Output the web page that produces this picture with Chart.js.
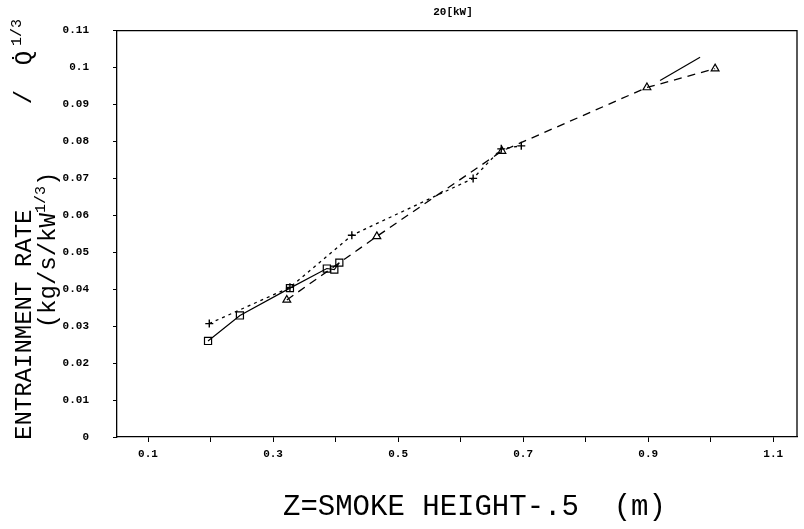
<!DOCTYPE html>
<html><head><meta charset="utf-8">
<script src="https://cdn.jsdelivr.net/npm/chart.js@4/dist/chart.umd.min.js"></script>
<style>html,body{margin:0;padding:0;background:#fff;}canvas{display:block;}</style>
</head><body>
<canvas id="c" width="804" height="529"></canvas>
<script>
// ---- data ----
const squareX = [0.196, 0.247, 0.327, 0.386, 0.398, 0.406];
const squareY = [0.0260, 0.0329, 0.0403, 0.0456, 0.0453, 0.0472];
const solidTailX = [0.919, 0.983];
const solidTailY = [0.0965, 0.1028];
const plusX = [0.198, 0.327, 0.426, 0.620, 0.665, 0.697];
const plusY = [0.0307, 0.0405, 0.0546, 0.0700, 0.0780, 0.0788];
const triX = [0.322, 0.466, 0.666, 0.898, 1.007];
const triY = [0.0371, 0.0543, 0.0774, 0.0946, 0.0997];
const xTicks = [0.1, 0.2, 0.3, 0.4, 0.5, 0.6, 0.7, 0.8, 0.9, 1.0, 1.1];
const xTickLabels = ['0.1', '', '0.3', '', '0.5', '', '0.7', '', '0.9', '', '1.1'];
const yTicks = [0, 0.01, 0.02, 0.03, 0.04, 0.05, 0.06, 0.07, 0.08, 0.09, 0.1, 0.11];
const yTickLabels = ['0', '0.01', '0.02', '0.03', '0.04', '0.05', '0.06', '0.07', '0.08', '0.09', '0.1', '0.11'];
const chartTitle = '20[kW]';
const xTitle = 'Z=SMOKE HEIGHT-.5  (m)';

const pts = (xs, ys) => xs.map((x, i) => ({x: x, y: ys[i]}));
const MONO = "'Liberation Mono', 'DejaVu Sans Mono', monospace";

const textPlugin = {
  id: 'texts',
  afterDraw(chart) {
    const ctx = chart.ctx;
    const a = chart.chartArea;
    ctx.save();
    ctx.strokeStyle = '#000';
    ctx.lineWidth = 1.3;
    ctx.beginPath();
    ctx.moveTo(a.left, a.top); ctx.lineTo(a.right, a.top); ctx.lineTo(a.right, a.bottom);
    ctx.stroke();
    ctx.fillStyle = '#000';
    ctx.font = "bold 11px " + MONO;
    ctx.textAlign = 'center'; ctx.textBaseline = 'middle';
    ctx.fillText(chartTitle, 453, 12);
    ctx.font = "29px " + MONO;
    ctx.textAlign = 'left'; ctx.textBaseline = 'middle';
    ctx.fillText(xTitle, 283, 507);
    ctx.save();
    ctx.rotate(-Math.PI / 2);
    ctx.textBaseline = 'middle';
    ctx.textAlign = 'left';
    ctx.font = "24px " + MONO;
    ctx.fillText('ENTRAINMENT RATE', -440, 25);
    ctx.textAlign = 'center';
    ctx.fillText('/', -97, 25);
    ctx.fillText('Q\u0307', -58, 25);
    ctx.font = "15px " + MONO;
    ctx.textAlign = 'left';
    ctx.fillText('1/3', -46, 17);
    ctx.font = "24px " + MONO;
    const p1 = '(kg/s/kW', p3 = ')';
    const w1 = ctx.measureText(p1).width, w3 = ctx.measureText(p3).width;
    ctx.font = "15px " + MONO;
    const w2 = ctx.measureText('1/3').width;
    const total = w1 + w2 + w3;
    let sx = -250 - total / 2;
    ctx.font = "24px " + MONO;
    ctx.fillText(p1, sx, 49);
    ctx.font = "15px " + MONO;
    ctx.fillText('1/3', sx + w1, 41);
    ctx.font = "24px " + MONO;
    ctx.fillText(p3, sx + w1 + w2, 49);
    ctx.restore();
    ctx.restore();
  }
};

new Chart(document.getElementById('c'), {
  type: 'scatter',
  data: {
    datasets: [
      {data: pts(squareX, squareY), showLine: true, borderColor: '#000', borderWidth: 1.2,
       pointStyle: 'rect', pointRadius: 5, pointBorderColor: '#000', pointBackgroundColor: 'rgba(0,0,0,0)', pointBorderWidth: 1.2},
      {data: pts(solidTailX, solidTailY), showLine: true, borderColor: '#000', borderWidth: 1.2, pointRadius: 0},
      {data: pts(plusX, plusY), showLine: true, borderColor: '#000', borderWidth: 1.3, borderDash: [3, 4],
       pointStyle: 'cross', pointRadius: 4, pointBorderColor: '#000', pointBorderWidth: 1.4},
      {data: pts(triX, triY), showLine: true, borderColor: '#000', borderWidth: 1.3, borderDash: [8, 6],
       pointStyle: 'triangle', pointRadius: 4.5, pointBorderColor: '#000', pointBackgroundColor: 'rgba(0,0,0,0)', pointBorderWidth: 1.2}
    ]
  },
  options: {
    responsive: false,
    animation: false,
    devicePixelRatio: 1,
    layout: {padding: {top: 22, right: 7, left: 0, bottom: 0}},
    plugins: {legend: {display: false}, tooltip: {enabled: false}, title: {display: false}},
    scales: {
      x: {
        type: 'linear', min: 0.0504, max: 1.138,
        afterFit(s) { s.height = 92; },
        afterBuildTicks(s) { s.ticks = xTicks.map(v => ({value: v})); },
        grid: {display: true, drawOnChartArea: false, drawTicks: true, tickLength: 5, color: '#000', lineWidth: 1},
        border: {display: true, color: '#000', width: 1.3},
        ticks: {color: '#000', padding: 6, maxRotation: 0, autoSkip: false,
          font: {family: MONO, size: 11, weight: 'bold'},
          callback: (v, i) => xTickLabels[i]}
      },
      y: {
        type: 'linear', min: 0, max: 0.11,
        afterFit(s) { s.width = 117; },
        afterBuildTicks(s) { s.ticks = yTicks.map(v => ({value: v})); },
        grid: {display: true, drawOnChartArea: false, drawTicks: true, tickLength: 4, color: '#000', lineWidth: 1},
        border: {display: true, color: '#000', width: 1.3},
        ticks: {color: '#000', padding: 24, autoSkip: false,
          font: {family: MONO, size: 11, weight: 'bold'},
          callback: (v, i) => yTickLabels[i]}
      }
    }
  },
  plugins: [textPlugin]
});
</script>
</body></html>
